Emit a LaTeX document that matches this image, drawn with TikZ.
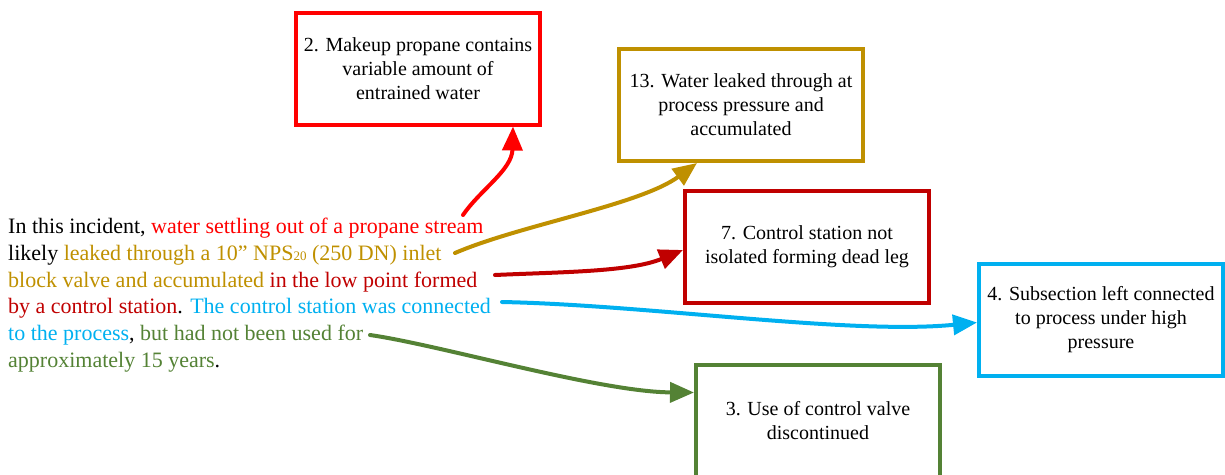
\documentclass[tikz,border=0pt]{standalone}
\usepackage{fontspec}
\setmainfont{Liberation Serif}
\usetikzlibrary{arrows.meta}
\definecolor{cRed}{HTML}{FF0000}
\definecolor{cGold}{HTML}{BF9000}
\definecolor{cDark}{HTML}{C00000}
\definecolor{cCyan}{HTML}{00B0F0}
\definecolor{cGreen}{HTML}{548235}
\begin{document}
\begin{tikzpicture}[x=1pt,y=-1pt,
  box/.style={draw, line width=4pt, fill=white, minimum width=244pt,
    minimum height=112pt, inner sep=0pt, align=center, text=black,
    font=\fontsize{20}{24}\selectfont},
  para/.style={anchor=base west, inner sep=0pt, font=\fontsize{22}{26.8}\selectfont},
  link/.style={line width=4pt, line cap=round, -{Triangle[length=24pt,width=20pt]}}
]
\useasboundingbox (0,0) rectangle (1225,474);
\clip (0,0) rectangle (1225,474);

% outcome boxes
\node[box, draw=cRed]   (b2)  at (418,68.5) {2. Makeup propane contains\\variable amount of\\entrained water};
\node[box, draw=cGold]  (b13) at (741,105)  {13. Water leaked through at\\process pressure and\\accumulated};
\node[box, draw=cDark]  (b7)  at (807,247)  {7. Control station not\\isolated forming dead leg};
\node[box, draw=cCyan]  (b4)  at (1101,319.5) {4. Subsection left connected\\to process under high\\pressure};
\node[box, draw=cGreen] (b3)  at (818,420.5) {3. Use of control valve\\discontinued};

% incident description, one node per line
\node[para] (l1) at (8,233)   {In this incident, \textcolor{cRed}{water settling out of a propane stream}};
\node[para] (l2) at (8,260)   {likely \textcolor{cGold}{leaked through a 10” NPS{\fontsize{13}{13}\selectfont 20} (250 DN) inlet}};
\node[para] (l3) at (8,287)   {\textcolor{cGold}{block valve and accumulated} \textcolor{cDark}{in the low point formed}};
\node[para] (l4) at (8,313.5) {\textcolor{cDark}{by a control station}. \textcolor{cCyan}{The control station was connected}};
\node[para] (l5) at (8,340)   {\textcolor{cCyan}{to the process}, \textcolor{cGreen}{but had not been used for}};
\node[para] (l6) at (8,367)   {\textcolor{cGreen}{approximately 15 years}.};

% arrow origins
\coordinate (s2)  at (463,215);
\coordinate (s13) at (455,253);
\coordinate (s7)  at (495,275);
\coordinate (s4)  at (502,302);
\coordinate (s3)  at (370,335);

% connectors
\draw[link, cRed]   (s2)  .. controls (480,190) and (512,170) .. ([xshift=95pt]b2.south);
\draw[link, cGold]  (s13) .. controls (520,225) and (640,205) .. ([xshift=-44pt]b13.south);
\draw[link, cDark]  (s7)  .. controls (560,272) and (630,272) .. ([yshift=-3pt]b7.west);
\draw[link, cCyan]  (s4)  .. controls (650,305) and (850,335) .. ([yshift=-3pt]b4.west);
\draw[link, cGreen] (s3)  .. controls (440,345) and (600,392) .. ([yshift=28pt]b3.west);
\end{tikzpicture}
\end{document}
